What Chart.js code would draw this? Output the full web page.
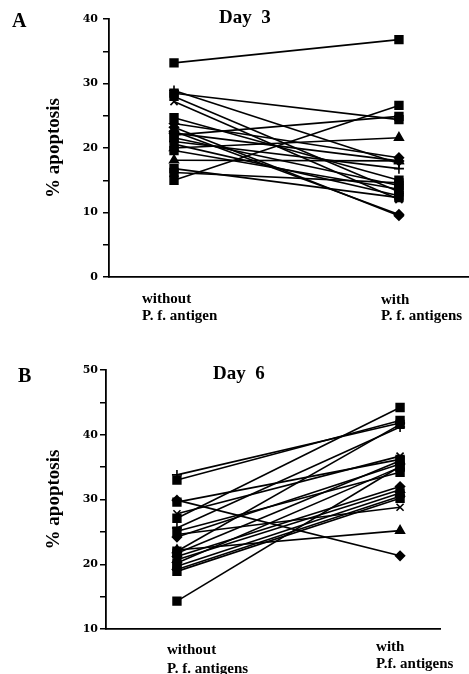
<!DOCTYPE html>
<html>
<head>
<meta charset="utf-8">
<title>Apoptosis Day 3 / Day 6</title>
<script src="https://cdn.jsdelivr.net/npm/chart.js@4/dist/chart.umd.min.js"></script>
<style>
  body { margin: 0; background: #fff; }
  #wrap { position: relative; width: 469px; height: 674px; overflow: hidden; }
  canvas { position: absolute; left: 0; }
</style>
</head>
<body>
<div id="wrap">
  <canvas id="day3" width="469" height="330" style="top:0"></canvas>
  <canvas id="day6" width="469" height="344" style="top:330px"></canvas>
</div>
<script>
// categories (x axis)
const day3Labels = [['without', 'P. f. antigen'], ['with', 'P. f. antigens']];
const day6Labels = [['without', 'P. f. antigens'], ['with', 'P.f. antigens']];

// Day 3 values, one entry per donor
const day3Without = [33.2, 28.9, 28.5, 28.0, 27.2, 24.7, 23.8, 23.2, 22.6, 22.0, 21.6, 21.0, 20.6, 20.0, 19.6, 18.1, 16.8, 16.2, 15.0, 22.3];
const day3With    = [36.8, 17.6, 24.4, 13.2, 12.0, 15.0, 18.5, 9.5, 9.7, 24.9, 14.2, 16.8, 12.6, 21.6, 13.6, 18.0, 12.3, 14.6, 26.6, 18.0];
const day3Markers = ['rect', 'cross', 'rect', 'rect', 'crossRot', 'rect', 'rectRot', 'rectRot', 'rectRot', 'rect',
                     'rect', 'cross', 'rect', 'triangle', 'rect', 'triangle', 'rect', 'rect', 'rect', 'rectRot'];

// Day 6 values
const day6Without = [33.8, 33.0, 29.9, 29.6, 27.8, 27.1, 25.6, 25.1, 24.6, 24.2, 22.2, 21.7, 21.2, 20.7, 20.2, 19.7, 19.2, 18.9, 14.3, 22.0];
const day6With    = [41.8, 42.2, 21.3, 36.2, 36.7, 44.2, 41.2, 34.2, 28.8, 35.5, 25.2, 36.0, 32.0, 31.5, 35.0, 31.0, 30.5, 30.2, 35.1, 41.6];
const day6Markers = ['cross', 'rect', 'rectRot', 'rect', 'crossRot', 'rect', 'cross', 'rect', 'crossRot', 'rectRot',
                     'triangle', 'rect', 'rectRot', 'triangle', 'rect', 'rect', 'rectRot', 'rect', 'rect', 'rect'];

// y tick ranges
const day3Ticks = { min: 0, max: 40, step: 5 };
const day6Ticks = { min: 10, max: 50, step: 5 };

const MARKER_SIZE = { rect: 5.5, rectRot: 4.5, triangle: 5, cross: 5, crossRot: 5 };
const SERIF = '"Liberation Serif", "Times New Roman", serif';

// one dataset per donor: without -> with
function buildDatasets(without, withAg, markers) {
  return without.map((v, i) => ({
    data: [{ x: 1, y: v }, { x: 2, y: withAg[i] }],
    borderColor: '#000',
    borderWidth: 1.6,
    pointStyle: markers[i],
    pointRadius: MARKER_SIZE[markers[i]],
    pointBackgroundColor: '#000',
    pointBorderColor: '#000',
    pointBorderWidth: 1.6
  }));
}

// panel letter, day title and x labels
const panelText = {
  id: 'panelText',
  afterDraw(chart, args, opts) {
    const ctx = chart.ctx;
    const xs = chart.scales.x;
    ctx.save();
    ctx.fillStyle = '#000';
    ctx.textAlign = 'left';
    ctx.textBaseline = 'alphabetic';
    ctx.font = 'bold 20px ' + SERIF;
    ctx.fillText(opts.letter[0], opts.letter[1], opts.letter[2]);
    ctx.font = 'bold 19px ' + SERIF;
    ctx.fillText(opts.day[0], opts.day[1], opts.day[2]);
    ctx.font = 'bold 15px ' + SERIF;
    opts.labels.forEach((lines, i) => {
      const px = xs.getPixelForValue(i + 1) + opts.shift[i];
      lines.forEach((t, j) => ctx.fillText(t, px, opts.baselines[i][j]));
    });
    ctx.restore();
  }
};

function makeChart(id, cfg) {
  return new Chart(document.getElementById(id), {
    type: 'line',
    data: { datasets: buildDatasets(cfg.without, cfg.withAg, cfg.markers) },
    options: {
      responsive: false,
      animation: false,
      layout: { padding: cfg.padding, autoPadding: false },
      plugins: {
        legend: { display: false },
        tooltip: { enabled: false },
        panelText: cfg.text
      },
      scales: {
        x: {
          type: 'linear',
          min: cfg.xRange[0],
          max: cfg.xRange[1],
          grid: { drawOnChartArea: false, drawTicks: false, color: 'rgba(0,0,0,0)' },
          border: { color: '#000', width: 1.8 },
          ticks: { display: false },
          afterFit(scale) { scale.height = cfg.xHeight; }
        },
        y: {
          min: cfg.ticks.min,
          max: cfg.ticks.max,
          grid: { drawOnChartArea: false, color: '#000', tickLength: 6, lineWidth: 1.5 },
          border: { color: '#000', width: 1.8 },
          ticks: {
            stepSize: cfg.ticks.step,
            color: '#000',
            padding: cfg.tickPad,
            font: { family: '"DejaVu Serif", serif', weight: 'bold', size: 11 },
            callback: v => (v % 10 === 0 ? v : '')
          },
          title: {
            display: true,
            text: '% apoptosis',
            color: '#000',
            font: { family: SERIF, weight: 'bold', size: 19 },
            padding: { top: 43, bottom: 0 }
          },
          afterFit(scale) { scale.width = cfg.yWidth; }
        }
      }
    },
    plugins: [panelText]
  });
}

// panel A: day 3
makeChart('day3', {
  without: day3Without, withAg: day3With, markers: day3Markers,
  ticks: day3Ticks,
  xRange: [0.711, 2.307],
  padding: { left: 0, top: 19, right: 1, bottom: 0 },
  yWidth: 109, xHeight: 53, tickPad: 5,
  text: {
    letter: ['A', 12, 27],
    day: ['Day  3', 219, 23],
    labels: day3Labels,
    shift: [-32, -18],
    baselines: [[303, 320], [304, 320]]
  }
});

// panel B: day 6
makeChart('day6', {
  without: day6Without, withAg: day6With, markers: day6Markers,
  ticks: day6Ticks,
  xRange: [0.682, 2.179],
  padding: { left: 0, top: 40, right: 29, bottom: 0 },
  yWidth: 106, xHeight: 45, tickPad: 2,
  text: {
    letter: ['B', 18, 52],
    day: ['Day  6', 213, 49],
    labels: day6Labels,
    shift: [-10, -24],
    baselines: [[324, 343], [321, 338]]
  }
});
</script>
</body>
</html>
